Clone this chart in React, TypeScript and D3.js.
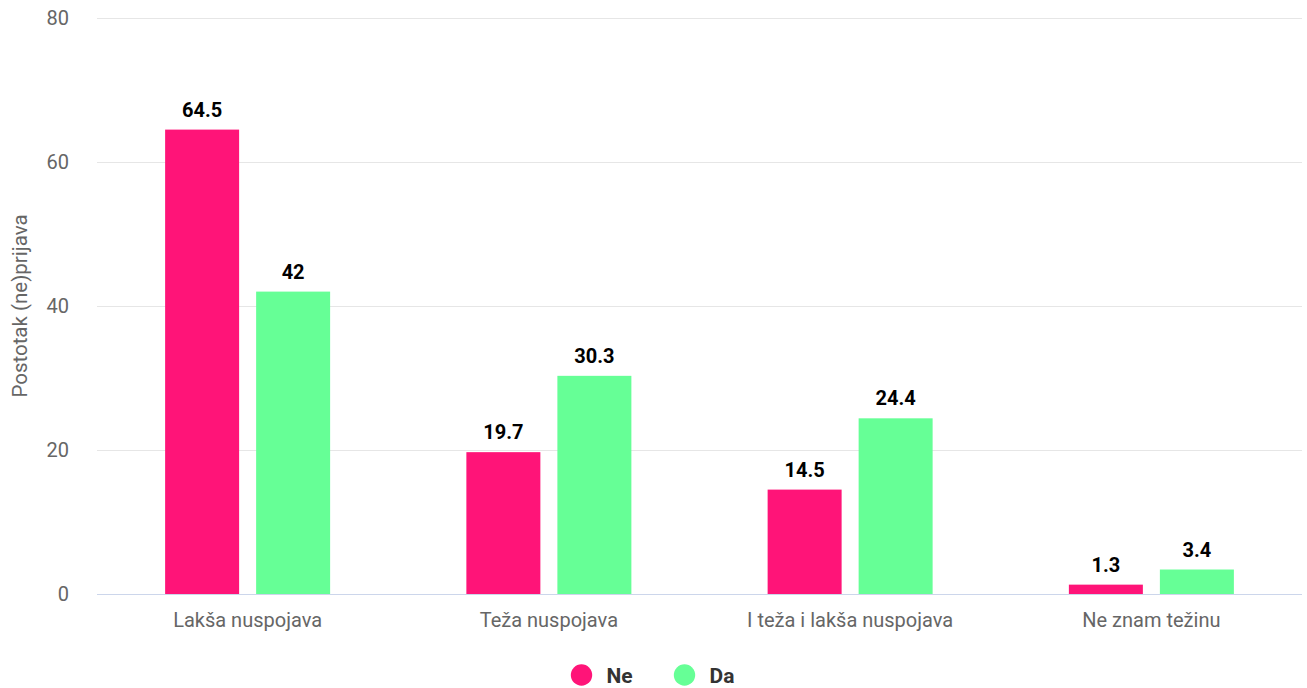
import { useEffect, useRef } from "react";
import * as d3 from "d3";

const categories = ["Lakša nuspojava", "Teža nuspojava", "I teža i lakša nuspojava", "Ne znam težinu"];
const seriesNames = ["Ne", "Da"];
const ne = [64.5, 19.7, 14.5, 1.3];
const da = [42, 30.3, 24.4, 3.4];
const yTicks = [0, 20, 40, 60, 80];
const colors = ["#ff1478", "#66ff96"];

export default function App() {
  const ref = useRef<SVGSVGElement>(null);

  useEffect(() => {
    if (!ref.current) return;
    const w = 1307,
      h = 688,
      margin = { top: 18, right: 5, bottom: 94, left: 97 };
    const font = "Roboto, sans-serif";

    const svg = d3.select(ref.current);
    svg.selectAll("*").remove();
    svg.attr("width", w).attr("height", h).attr("viewBox", `0 0 ${w} ${h}`);

    const x0 = d3.scaleBand().domain(categories).range([margin.left, w - margin.right]);
    const x1 = d3.scaleBand().domain(seriesNames).range([0, 165]).paddingInner(0.187);
    const y = d3.scaleLinear().domain([0, 80]).range([h - margin.bottom, margin.top]);

    // grid
    svg
      .append("g")
      .selectAll("line")
      .data(yTicks.filter((t) => t > 0))
      .join("line")
      .attr("x1", margin.left)
      .attr("x2", w - margin.right)
      .attr("y1", (d) => y(d) + 0.5)
      .attr("y2", (d) => y(d) + 0.5)
      .attr("stroke", "#e6e6e6")
      .attr("stroke-width", 1);

    svg
      .append("g")
      .selectAll("text")
      .data(yTicks)
      .join("text")
      .attr("x", 69)
      .attr("y", (d) => y(d))
      .attr("dy", "0.35em")
      .attr("text-anchor", "end")
      .attr("fill", "#666666")
      .attr("font-family", font)
      .attr("font-size", 20)
      .text((d) => d);

    svg
      .append("text")
      .attr("transform", `translate(27,${(margin.top + h - margin.bottom) / 2}) rotate(-90)`)
      .attr("text-anchor", "middle")
      .attr("fill", "#666666")
      .attr("font-family", font)
      .attr("font-size", 20.5)
      .text("Postotak (ne)prijava");

    const groups = svg
      .append("g")
      .selectAll("g")
      .data(categories.map((c, i) => ({ c, vals: [ne[i], da[i]] })))
      .join("g")
      .attr("transform", (d) => `translate(${x0(d.c)! + x0.bandwidth() / 2 - 82.5},0)`);

    groups
      .selectAll("rect")
      .data((d) => d.vals.map((v, j) => ({ v, s: seriesNames[j], j })))
      .join("rect")
      .attr("x", (d) => x1(d.s)!)
      .attr("width", x1.bandwidth())
      .attr("y", (d) => y(d.v))
      .attr("height", (d) => y(0) - y(d.v))
      .attr("fill", (d) => colors[d.j]);

    groups
      .selectAll("text")
      .data((d) => d.vals.map((v, j) => ({ v, s: seriesNames[j] })))
      .join("text")
      .attr("x", (d) => x1(d.s)! + x1.bandwidth() / 2)
      .attr("y", (d) => y(d.v) - 13)
      .attr("text-anchor", "middle")
      .attr("fill", "#000")
      .attr("font-family", font)
      .attr("font-weight", "bold")
      .attr("font-size", 20)
      .text((d) => d.v);

    // baseline
    svg
      .append("line")
      .attr("x1", margin.left)
      .attr("x2", w - margin.right)
      .attr("y1", y(0) + 0.5)
      .attr("y2", y(0) + 0.5)
      .attr("stroke", "#ccd6eb");

    svg
      .append("g")
      .selectAll("text")
      .data(categories)
      .join("text")
      .attr("x", (d) => x0(d)! + x0.bandwidth() / 2)
      .attr("y", y(0) + 33)
      .attr("text-anchor", "middle")
      .attr("fill", "#666666")
      .attr("font-family", font)
      .attr("font-size", 20)
      .text((d) => d);

    // legend
    const leg = svg
      .append("g")
      .selectAll("g")
      .data(seriesNames)
      .join("g")
      .attr("transform", (d, i) => `translate(${581.5 + i * 103},675)`);
    leg.append("circle").attr("r", 10.7).attr("fill", (d, i) => colors[i]);
    leg
      .append("text")
      .attr("x", 25)
      .attr("dy", "0.36em")
      .attr("fill", "#333333")
      .attr("font-family", font)
      .attr("font-weight", "bold")
      .attr("font-size", 21)
      .text((d) => d);
  }, []);

  return <svg ref={ref} style={{ position: "absolute", left: 0, top: 0 }} />;
}
